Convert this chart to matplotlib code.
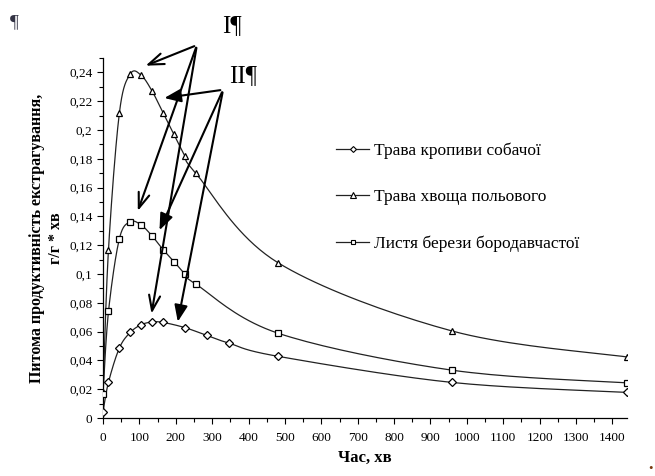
import numpy as np
import matplotlib
matplotlib.use('Agg')
import matplotlib.pyplot as plt
from matplotlib.ticker import MultipleLocator, FuncFormatter

plt.rcParams['font.family'] = ['Liberation Serif', 'DejaVu Serif']

# Дані
t_kropyva = [0, 15, 45, 75, 105, 135, 165, 225, 285, 345, 480, 960, 1440]
y_kropyva = [0.0044, 0.0249, 0.0487, 0.0595, 0.0648, 0.0667, 0.0664, 0.0628, 0.0574, 0.0521, 0.0429, 0.0247, 0.0178]

t_khvoshch = [0, 15, 45, 75, 105, 135, 165, 195, 225, 255, 480, 960, 1440]
y_khvoshch = [0.018, 0.117, 0.212, 0.239, 0.238, 0.227, 0.212, 0.197, 0.182, 0.170, 0.108, 0.0604, 0.0424]

t_bereza = [0, 15, 45, 75, 105, 135, 165, 195, 225, 255, 480, 960, 1440]
y_bereza = [0.017, 0.074, 0.1246, 0.1363, 0.134, 0.1264, 0.117, 0.1087, 0.100, 0.093, 0.059, 0.0332, 0.0244]

labels = ['Трава кропиви собачої', 'Трава хвоща польового', 'Листя берези бородавчастої']

XMAX = 1440
YMAX = 0.25


def smooth(t, y, n=20):
    # згладжування лінії (як у Excel) - Catmull-Rom у нормованих координатах
    px = np.asarray(t, float) / XMAX
    py = np.asarray(y, float) / YMAX * 0.75
    P = np.column_stack([px, py])
    P = np.vstack([P[0], P, P[-1]])
    out = []
    for i in range(1, len(P) - 2):
        p0, p1, p2, p3 = P[i - 1], P[i], P[i + 1], P[i + 2]
        s = np.linspace(0, 1, n, endpoint=False)[:, None]
        seg = 0.5 * ((2 * p1) + (-p0 + p2) * s + (2 * p0 - 5 * p1 + 4 * p2 - p3) * s ** 2
                     + (-p0 + 3 * p1 - 3 * p2 + p3) * s ** 3)
        out.append(seg)
    out.append(P[-2][None, :])
    out = np.vstack(out)
    return out[:, 0] * XMAX, out[:, 1] / 0.75 * YMAX


fig = plt.figure(figsize=(6.55, 4.76), dpi=100)
ax = fig.add_axes([0.1573, 0.1218, 0.7999, 0.7562])

series = [(t_kropyva, y_kropyva, 'D', 4.0), (t_khvoshch, y_khvoshch, '^', 5.0), (t_bereza, y_bereza, 's', 4.6)]
handles = []
for (t, y, m, ms), lab in zip(series, labels):
    sx, sy = smooth(t, y)
    ax.plot(sx, sy, color='#222222', lw=0.9, zorder=2)
    ax.plot(t, y, ls='none', marker=m, ms=ms, mfc='white', mec='black', mew=0.9, zorder=3)
    h, = ax.plot([], [], color='#222222', lw=0.9, marker=m, ms=ms * 0.75, mfc='white', mec='black', mew=0.8, label=lab)
    handles.append(h)

ax.set_xlim(0, XMAX)
ax.set_ylim(0, YMAX)
ax.xaxis.set_major_locator(MultipleLocator(100))
ax.xaxis.set_minor_locator(MultipleLocator(50))
ax.yaxis.set_major_locator(MultipleLocator(0.02))
ax.yaxis.set_minor_locator(MultipleLocator(0.01))
ax.yaxis.set_major_formatter(FuncFormatter(lambda v, p: ('%g' % round(v, 2)).replace('.', ',')))
ax.tick_params(which='both', direction='out', labelsize=9.5, width=0.8, color='black')
ax.tick_params(which='major', length=4)
ax.tick_params(which='minor', length=3)
ax.tick_params(axis='x', pad=6)
for s in ['top', 'right']:
    ax.spines[s].set_visible(False)
for s in ['left', 'bottom']:
    ax.spines[s].set_linewidth(0.9)

ax.set_xlabel('Час, хв', fontsize=12, fontweight='bold', labelpad=4)
ax.set_ylabel('Питома продуктивність екстрагування,\nг/г * хв', fontsize=11.5, fontweight='bold', labelpad=4)

ax.legend(handles=handles, loc='upper left', bbox_to_anchor=(0.415, 0.81), frameon=False,
          fontsize=12.5, handlelength=1.9, handletextpad=0.3, labelspacing=1.75)

# стрілки I (відкриті) та II (заповнені)
startI = (258, 0.259)
for tip in [(110, 0.244), (93, 0.142), (132, 0.0706)]:
    ax.annotate('', xy=tip, xytext=startI, annotation_clip=False,
                arrowprops=dict(arrowstyle='->,head_length=1.1,head_width=0.4', color='black', lw=1.5))
startII = (330, 0.228)
for tip in [(161, 0.222), (152, 0.1287), (204, 0.065)]:
    ax.annotate('', xy=tip, xytext=startII, annotation_clip=False,
                arrowprops=dict(arrowstyle='-|>,head_length=1.0,head_width=0.4', color='black', lw=1.5))

fig.text(222 / 655, 1 - 32 / 476, 'I¶', fontsize=18, color='black')
fig.text(229 / 655, 1 - 82 / 476, 'II¶', fontsize=18, color='black')
fig.text(10 / 655, 1 - 27 / 476, '¶', fontsize=14, color='#333344')
fig.text(648 / 655, 1 - 472 / 476, '•', fontsize=9, color='#7a3a10')

fig.savefig('out.png', dpi=100)
